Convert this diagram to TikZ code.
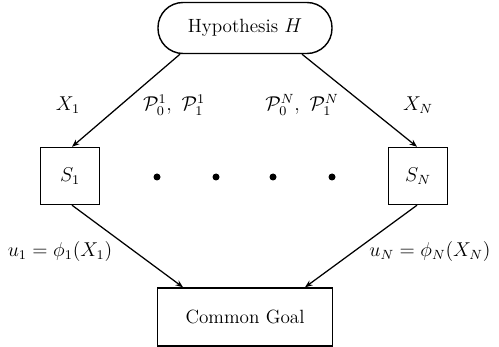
\documentclass[tikz,border=0pt]{standalone}
\usetikzlibrary{arrows.meta}
\begin{document}
\begin{tikzpicture}[x=0.6pt,y=-0.6pt,
  every node/.style={font=\fontsize{11.5}{14}\selectfont},
  arr/.style={line width=0.75pt,-{Stealth[length=4.5pt,width=3.5pt]}},
  hyp/.style={draw,line width=0.85pt,minimum width=104.4pt,minimum height=30.6pt,rounded corners=15pt,inner sep=0pt},
  sbox/.style={draw,line width=0.85pt,minimum width=35.4pt,minimum height=34.2pt,inner sep=0pt},
  goal/.style={draw,line width=0.85pt,minimum width=105pt,minimum height=34.8pt,inner sep=0pt},
  dotn/.style={circle,fill,inner sep=0pt,minimum size=4.2pt}]
\useasboundingbox (0,0) rectangle (499,347);
\node[hyp] (H) at (245,28) {Hypothesis $H$};
\node[sbox] (S1) at (70,176) {$S_1$};
\node[sbox] (SN) at (418,176) {$S_N$};
\node[goal] (G) at (245,317) {Common Goal};
\node (d1) [dotn] at (157,177) {};
\node (d2) [dotn] at (216,177) {};
\node (d3) [dotn] at (273,177) {};
\node (d4) [dotn] at (332,177) {};
\node (lx1) at (68,105) {$X_1$};
\node (lp1) at (174,105) {$\mathcal{P}_0^1,\ \mathcal{P}_1^1$};
\node (lpn) at (302,105) {$\mathcal{P}_0^N,\ \mathcal{P}_1^N$};
\node (lxn) at (418,105) {$X_N$};
\node (lu1) at (60,252) {$u_1=\phi_1(X_1)$};
\node (lun) at (430,252) {$u_N=\phi_N(X_N)$};
\draw[arr] ([xshift=-39pt]H.south) -- ([xshift=1.2pt]S1.north);
\draw[arr] ([xshift=34.2pt]H.south) -- ([xshift=-0.6pt]SN.north);
\draw[arr] ([xshift=1.2pt]S1.south) -- ([xshift=-37.2pt]G.north);
\draw[arr] ([xshift=-0.6pt]SN.south) -- ([xshift=36pt]G.north);
\end{tikzpicture}
\end{document}
